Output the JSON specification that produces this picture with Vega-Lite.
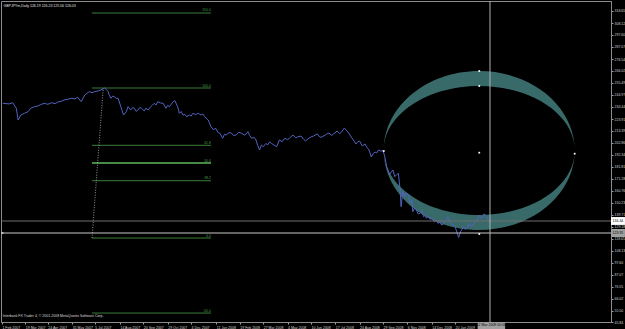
{
 "$schema": "https://vega.github.io/schema/vega-lite/v6.json",
 "width": 610, "height": 321,
 "autosize": {"type": "none"},
 "padding": {"left": 1, "top": 1, "right": 14, "bottom": 7},
 "background": "#000000",
 "config": {"view": {"stroke": "#8c8c8c", "strokeWidth": 1}, "font": "Liberation Sans", "axis": {"labelOverlap": false, "labelFont": "Liberation Sans"}},
 "title": {"text": "GBPJPYm,Daily  126.19 126.23 125.56 126.03", "anchor": "start", "orient": "top", "offset": -7, "dx": 3, "fontSize": 3.5, "fontWeight": "normal", "color": "#e0e0e0", "font": "Liberation Sans"},
 "layer": [
  {
   "data": {"values": [{"b": 530.8, "p": 196.28}]},
   "mark": {"type": "point", "shape": "M-1,0 A1,0.8325 0 0 1 1,0 A1,0.8325 0 0 1 -1,0 Z M-1,0 A1,0.675 0 0 0 1,0 A1,0.675 0 0 0 -1,0 Z", "size": 36481, "filled": true, "fill": "#386a6a", "opacity": 1, "strokeWidth": 0},
   "encoding": {
    "x": {"field": "b", "type": "quantitative", "scale": {"domain": [0, 677], "nice": false, "zero": false},
          "axis": {"orient": "bottom", "title": null, "grid": false, "tickCount": 200, "values": [1, 27, 52, 79, 104, 132, 158, 185, 211, 239, 265, 291, 318, 344, 371, 398, 424, 451, 478, 504],
                   "labelExpr": "['1 Feb 2007','19 Mar 2007','24 Apr 2007','31 May 2007','5 Jul 2007','14 Aug 2007','20 Sep 2007','29 Oct 2007','4 Dec 2007','11 Jan 2008','19 Feb 2008','27 Mar 2008','4 May 2008','10 Jun 2008','17 Jul 2008','24 Aug 2008','29 Sep 2008','6 Nov 2008','14 Dec 2008','20 Jan 2009'][indexof([1,27,52,79,104,132,158,185,211,239,265,291,318,344,371,398,424,451,478,504], datum.value)]",
                   "labelAlign": "left", "labelBaseline": "top", "labelFontSize": 3.5, "labelColor": "#d0d0d0", "labelPadding": 1, "labelDx": 1, "labelOverlap": false, "labelFlush": false, "labelBound": false,
                   "tickSize": 2, "tickColor": "#a0a0a0", "domainColor": "#8c8c8c"}},
    "y": {"field": "p", "type": "quantitative", "scale": {"domain": [45.84, 327.42], "nice": false, "zero": false},
          "axis": {"orient": "right", "title": null, "grid": false, "tickCount": 200, "values": [318.65, 308.12, 297.60, 287.07, 276.54, 266.02, 255.49, 244.97, 234.44, 223.91, 213.39, 202.86, 192.34, 181.81, 171.28, 160.76, 150.23, 139.71, 129.18, 118.65, 108.13, 97.60, 87.07, 76.55, 66.02, 55.50, 45.84],
                   "format": ".2f", "labelFontSize": 3.5, "labelColor": "#d0d0d0", "labelPadding": 1, "labelOverlap": false, "labelFlush": false, "labelBound": false,
                   "tickSize": 2, "tickColor": "#a0a0a0", "domainColor": "#8c8c8c"}}
   }
  },
  {
   "data": {"values": [{"level": "150.0", "p": 316.9}, {"level": "100.0", "p": 251.1}, {"level": "61.8", "p": 200.83}, {"level": "50.0", "p": 185.3}, {"level": "38.2", "p": 169.77}, {"level": "0.0", "p": 119.5}, {"level": "-50.0", "p": 53.7}]},
   "layer": [
    {"mark": {"type": "rule"},
     "encoding": {"x": {"datum": 101}, "x2": {"datum": 233}, "y": {"field": "p", "type": "quantitative"},
                  "color": {"condition": {"test": "datum.level == '50.0'", "value": "#5cb85c"}, "value": "#3a7d3a"},
                  "strokeWidth": {"condition": {"test": "datum.level == '50.0'", "value": 1.6}, "value": 1}}},
    {"mark": {"type": "text", "align": "right", "baseline": "bottom", "dy": -0.5, "fontSize": 3.5, "color": "#4a9a4a"},
     "encoding": {"x": {"datum": 233}, "y": {"field": "p", "type": "quantitative"}, "text": {"field": "level"}}}
   ]
  },
  {
   "data": {"values": [{"b": 113.5, "p": 251.1}, {"b": 101, "p": 119.5}]},
   "mark": {"type": "line", "strokeDash": [1, 1.5], "color": "#bbbbbb", "strokeWidth": 0.8},
   "encoding": {"x": {"field": "b", "type": "quantitative"}, "y": {"field": "p", "type": "quantitative"}}
  },
  {
   "data": {"values": [
    {"b":2,"p":237.7},{"b":9,"p":237.1},{"b":13,"p":238.2},{"b":17,"p":233.3},{"b":19,"p":223.0},{"b":22,"p":227.4},{"b":26,"p":228.9},{"b":30,"p":230.3},{"b":33,"p":233.3},{"b":37,"p":234.7},{"b":41,"p":235.3},{"b":44,"p":236.5},{"b":48,"p":237.7},{"b":52,"p":236.8},{"b":56,"p":238.2},{"b":60,"p":237.4},{"b":63,"p":238.8},{"b":67,"p":239.5},{"b":70,"p":240.6},{"b":74,"p":241.2},{"b":78,"p":242.1},{"b":82,"p":241.6},{"b":85,"p":243.0},{"b":89,"p":239.1},{"b":93,"p":245.0},{"b":98,"p":247.9},{"b":101,"p":247.0},{"b":104,"p":247.9},{"b":108,"p":248.6},{"b":111,"p":249.4},{"b":115,"p":251.1},{"b":117,"p":249.8},{"b":119,"p":247.9},{"b":120,"p":245.0},{"b":122,"p":242.1},{"b":124,"p":244.0},{"b":126,"p":243.5},{"b":128,"p":241.8},{"b":130,"p":242.1},{"b":133,"p":234.7},{"b":136,"p":227.4},{"b":139,"p":230.3},{"b":141,"p":234.7},{"b":144,"p":231.8},{"b":146,"p":233.9},{"b":148,"p":233.3},{"b":150,"p":230.6},{"b":152,"p":231.8},{"b":154,"p":234.0},{"b":156,"p":233.3},{"b":159,"p":231.0},{"b":161,"p":233.5},{"b":163,"p":231.8},{"b":166,"p":234.5},{"b":168,"p":236.0},{"b":170,"p":237.7},{"b":172,"p":236.2},{"b":174,"p":239.1},{"b":177,"p":238.0},{"b":180,"p":237.7},{"b":183,"p":233.3},{"b":185,"p":235.8},{"b":187,"p":234.7},{"b":189,"p":237.0},{"b":191,"p":239.1},{"b":193,"p":240.0},{"b":196,"p":234.7},{"b":198,"p":228.9},{"b":200,"p":230.5},{"b":202,"p":227.4},{"b":204,"p":228.0},{"b":206,"p":225.9},{"b":209,"p":227.4},{"b":211,"p":226.5},{"b":213,"p":228.9},{"b":216,"p":227.8},{"b":219,"p":228.9},{"b":222,"p":227.4},{"b":224,"p":228.3},{"b":226,"p":225.9},{"b":230,"p":223.0},{"b":233,"p":217.2},{"b":236,"p":214.3},{"b":238,"p":216.0},{"b":241,"p":211.9},{"b":243,"p":211.4},{"b":246,"p":207.0},{"b":248,"p":210.5},{"b":250,"p":209.9},{"b":253,"p":212.0},{"b":256,"p":211.4},{"b":258,"p":209.5},{"b":261,"p":209.9},{"b":264,"p":212.3},{"b":267,"p":211.4},{"b":270,"p":209.8},{"b":272,"p":210.8},{"b":274,"p":212.8},{"b":276,"p":209.5},{"b":278,"p":207.0},{"b":281,"p":207.8},{"b":283,"p":205.5},{"b":285,"p":200.5},{"b":287,"p":196.7},{"b":289,"p":201.0},{"b":291,"p":199.6},{"b":294,"p":202.5},{"b":296,"p":201.1},{"b":298,"p":203.8},{"b":300,"p":202.6},{"b":303,"p":201.0},{"b":306,"p":199.6},{"b":309,"p":205.5},{"b":312,"p":204.0},{"b":315,"p":207.0},{"b":318,"p":205.8},{"b":320,"p":207.0},{"b":324,"p":209.9},{"b":327,"p":207.5},{"b":329,"p":208.1},{"b":333,"p":209.0},{"b":336,"p":206.0},{"b":338,"p":204.6},{"b":342,"p":207.3},{"b":345,"p":208.5},{"b":347,"p":209.0},{"b":351,"p":210.8},{"b":354,"p":207.9},{"b":356,"p":208.1},{"b":360,"p":209.9},{"b":362,"p":211.0},{"b":364,"p":211.6},{"b":367,"p":209.6},{"b":369,"p":210.8},{"b":373,"p":213.4},{"b":376,"p":211.0},{"b":378,"p":212.5},{"b":381,"p":216.0},{"b":384,"p":213.4},{"b":386,"p":211.5},{"b":388,"p":209.0},{"b":391,"p":205.5},{"b":394,"p":202.0},{"b":396,"p":203.9},{"b":398,"p":204.6},{"b":401,"p":200.2},{"b":404,"p":202.0},{"b":406,"p":199.0},{"b":408,"p":197.6},{"b":411,"p":190.6},{"b":413,"p":193.4},{"b":415,"p":195.0},{"b":417,"p":194.1},{"b":419,"p":196.7},{"b":421,"p":195.8},{"b":424,"p":196.1},{"b":426,"p":190.8},{"b":428,"p":182.1},{"b":430,"p":178.5},{"b":431,"p":174.8},{"b":433,"p":177.3},{"b":435,"p":179.2},{"b":437,"p":173.3},{"b":439,"p":175.0},{"b":441,"p":176.3},{"b":443,"p":161.6},{"b":444,"p":147.0},{"b":446,"p":160.1},{"b":448,"p":155.8},{"b":450,"p":159.0},{"b":452,"p":157.3},{"b":454,"p":150.0},{"b":456,"p":152.9},{"b":457,"p":142.6},{"b":459,"p":145.8},{"b":461,"p":144.1},{"b":463,"p":140.6},{"b":465,"p":141.2},{"b":467,"p":143.5},{"b":469,"p":138.2},{"b":471,"p":139.6},{"b":472,"p":136.8},{"b":474,"p":138.5},{"b":476,"p":135.9},{"b":478,"p":137.0},{"b":481,"p":133.8},{"b":483,"p":134.9},{"b":485,"p":132.4},{"b":487,"p":133.6},{"b":489,"p":130.9},{"b":491,"p":131.8},{"b":493,"p":133.8},{"b":496,"p":138.2},{"b":498,"p":134.0},{"b":500,"p":132.4},{"b":502,"p":130.9},{"b":504,"p":129.4},{"b":506,"p":124.5},{"b":508,"p":120.0},{"b":510,"p":125.1},{"b":512,"p":127.5},{"b":513,"p":129.4},{"b":515,"p":127.0},{"b":517,"p":128.0},{"b":519,"p":131.0},{"b":520,"p":132.4},{"b":522,"p":129.6},{"b":524,"p":130.9},{"b":526,"p":133.9},{"b":528,"p":135.3},{"b":530,"p":137.9},{"b":531,"p":139.7},{"b":533,"p":136.5},{"b":535,"p":138.2},{"b":536,"p":140.6},{"b":538,"p":139.7},{"b":540,"p":136.4},{"b":541,"p":134.4}
   ]},
   "mark": {"type": "line", "color": "#5363c0", "strokeWidth": 1},
   "encoding": {"x": {"field": "b", "type": "quantitative"}, "y": {"field": "p", "type": "quantitative"}}
  },
  {"data": {"values": [{}]}, "mark": {"type": "rule", "color": "#707070", "strokeWidth": 1}, "encoding": {"y": {"datum": 134.44}}},
  {"data": {"values": [{}]}, "mark": {"type": "rule", "color": "#c8c8c8", "strokeWidth": 1}, "encoding": {"y": {"datum": 123.91}}},
  {"data": {"values": [{}]}, "mark": {"type": "rule", "color": "#b4b4b4", "strokeWidth": 1}, "encoding": {"x": {"datum": 542.7}}},
  {
   "data": {"values": [{"b": 530.8, "p": 266.02}, {"b": 530.8, "p": 252.86}, {"b": 530.8, "p": 194.35}, {"b": 530.8, "p": 123.04}, {"b": 424.8, "p": 195.84}, {"b": 636.7, "p": 193.48}]},
   "mark": {"type": "point", "shape": "square", "filled": true, "size": 3, "color": "#ffffff", "opacity": 1},
   "encoding": {"x": {"field": "b", "type": "quantitative"}, "y": {"field": "p", "type": "quantitative"}}
  },
  {"data": {"values": [{}]}, "mark": {"type": "point", "shape": "triangle-right", "filled": true, "size": 10, "color": "#c8c8c8", "opacity": 1}, "encoding": {"x": {"datum": 2}, "y": {"datum": 123.91}}},
  {"data": {"values": [{}]}, "mark": {"type": "rect", "fill": "#ffffff"}, "encoding": {"x": {"datum": 677}, "x2": {"datum": 692.5}, "y": {"datum": 137.9}, "y2": {"datum": 131.0}}},
  {"data": {"values": [{}]}, "mark": {"type": "text", "fontSize": 3.5, "color": "#000000", "align": "center", "baseline": "middle"}, "encoding": {"x": {"datum": 684.7}, "y": {"datum": 134.44}, "text": {"value": "134.44"}}},
  {"data": {"values": [{}]}, "mark": {"type": "rect", "fill": "#a0a0a0"}, "encoding": {"x": {"datum": 677}, "x2": {"datum": 692.5}, "y": {"datum": 127.4}, "y2": {"datum": 120.4}}},
  {"data": {"values": [{}]}, "mark": {"type": "text", "fontSize": 3.5, "color": "#000000", "align": "center", "baseline": "middle"}, "encoding": {"x": {"datum": 684.7}, "y": {"datum": 123.91}, "text": {"value": "123.91"}}},
  {"data": {"values": [{}]}, "mark": {"type": "rect", "fill": "#a0a0a0"}, "encoding": {"x": {"datum": 529}, "x2": {"datum": 559.5}, "y": {"datum": 45.84}, "y2": {"datum": 39.7}}},
  {"data": {"values": [{}]}, "mark": {"type": "text", "fontSize": 3.5, "color": "#000000", "align": "center", "baseline": "middle"}, "encoding": {"x": {"datum": 544.2}, "y": {"datum": 42.8}, "text": {"value": "12 Mar 2009 00:00"}}},
  {"data": {"values": [{}]}, "mark": {"type": "text", "fontSize": 3.5, "color": "#dcdcdc", "align": "left", "baseline": "middle"}, "encoding": {"x": {"datum": 2}, "y": {"datum": 51.1}, "text": {"value": "Interbank FX Trader 4, © 2001-2008 MetaQuotes Software Corp."}}}
 ]
}
